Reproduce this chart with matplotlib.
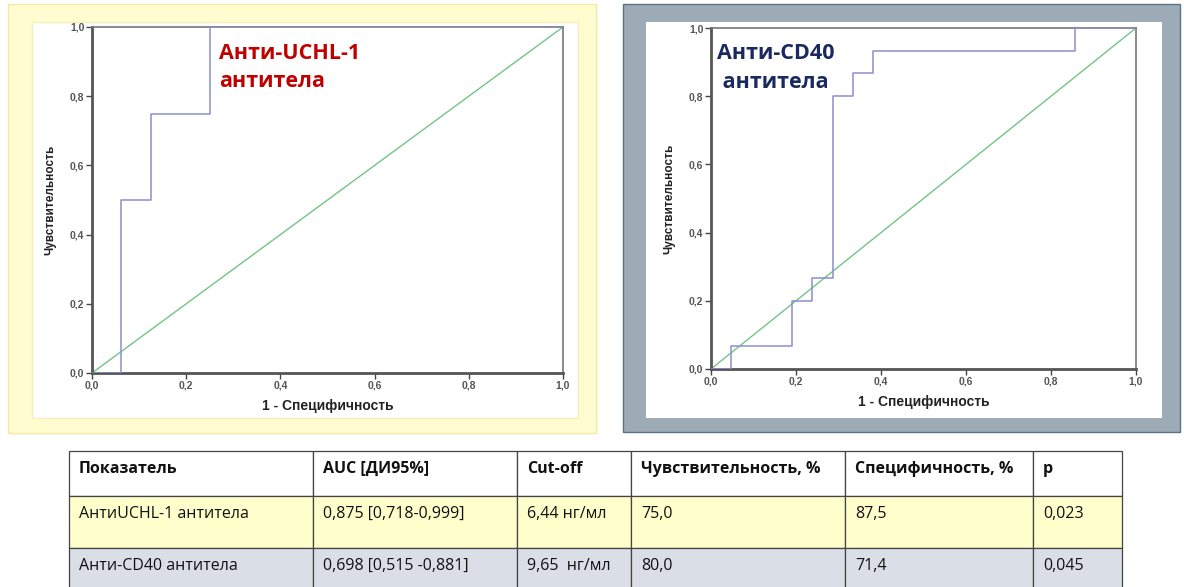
import matplotlib
matplotlib.use("Agg")
from matplotlib import pyplot as plt
from matplotlib.patches import Rectangle

# ROC data (1 - specificity, sensitivity)
uchl_fpr = [0.0, 0.0625, 0.0625, 0.125, 0.125, 0.25, 0.25, 1.0]
uchl_tpr = [0.0, 0.0, 0.5, 0.5, 0.75, 0.75, 1.0, 1.0]

cd40_fpr = [0.0, 0.048, 0.048, 0.190, 0.190, 0.238, 0.238, 0.286, 0.286,
            0.333, 0.333, 0.381, 0.381, 0.857, 0.857, 1.0]
cd40_tpr = [0.0, 0.0, 0.067, 0.067, 0.2, 0.2, 0.267, 0.267, 0.8,
            0.8, 0.867, 0.867, 0.933, 0.933, 1.0, 1.0]

ticks = [0.0, 0.2, 0.4, 0.6, 0.8, 1.0]
tick_labels = ['0,0', '0,2', '0,4', '0,6', '0,8', '1,0']

# table
headers = ['Показатель', 'AUC [ДИ95%]', 'Cut-off', 'Чувствительность, %', 'Специфичность, %', 'p']
row_uchl = ['АнтиUCHL-1 антитела', '0,875 [0,718-0,999]', '6,44 нг/мл', '75,0', '87,5', '0,023']
row_cd40 = ['Анти-CD40 антитела', '0,698 [0,515 -0,881]', '9,65  нг/мл', '80,0', '71,4', '0,045']

W, H = 1184, 587
fig = plt.figure(figsize=(W / 100, H / 100), dpi=100)
fig.patch.set_facecolor('white')

# background axes in pixel coords for frames and table
bg = fig.add_axes([0, 0, 1, 1])
bg.set_xlim(0, W)
bg.set_ylim(H, 0)
bg.axis('off')

# frames
bg.add_patch(Rectangle((8, 4), 588, 429, facecolor='#fffcd0', edgecolor='#f1e9a6', lw=1))
bg.add_patch(Rectangle((32, 22), 546, 396, facecolor='white', edgecolor='#f5efb8', lw=1))
bg.add_patch(Rectangle((623, 4), 557, 428, facecolor='#9cabb5', edgecolor='#5f7282', lw=1))
bg.add_patch(Rectangle((646, 22), 516, 396, facecolor='white', edgecolor='none'))

# table
col_edges = [69, 313, 517, 631, 845, 1033, 1122]
row_edges = [451, 496, 548, 600]
row_colors = ['white', '#ffffcc', '#d9dee7']
rows = [headers, row_uchl, row_cd40]
for r, (cells, color) in enumerate(zip(rows, row_colors)):
    y0, y1 = row_edges[r], row_edges[r + 1]
    for c, txt in enumerate(cells):
        x0, x1 = col_edges[c], col_edges[c + 1]
        bg.add_patch(Rectangle((x0, y0), x1 - x0, y1 - y0, facecolor=color,
                               edgecolor='#444444', lw=0.9))
        bg.text(x0 + 10, y0 + 18, txt, fontsize=11.5, family='Open Sans',
                fontweight='bold' if r == 0 else 'normal', color='#111111',
                ha='left', va='center')


def roc_axes(rect, fpr, tpr, title, title_color, title_xy, ylabel_x, xlabel_y):
    ax = fig.add_axes(rect)
    ax.plot(fpr, tpr, color='#8a8fd0', lw=1.1, zorder=3)
    ax.plot([0, 1], [0, 1], color='#74c486', lw=1.0, zorder=2)
    ax.set_xlim(0, 1)
    ax.set_ylim(0, 1)
    ax.set_xticks(ticks)
    ax.set_yticks(ticks)
    ax.set_xticklabels(tick_labels)
    ax.set_yticklabels(tick_labels)
    ax.tick_params(length=4, width=1, color='#444444', labelsize=7.5,
                   labelcolor='#555555', pad=1.5)
    for lab in ax.get_xticklabels() + ax.get_yticklabels():
        lab.set_fontweight('bold')
        lab.set_family('Liberation Sans')
    for side in ['left', 'bottom']:
        ax.spines[side].set_color('#555555')
        ax.spines[side].set_linewidth(2)
    for side in ['top', 'right']:
        ax.spines[side].set_color('#777777')
        ax.spines[side].set_linewidth(1.2)
    ax.set_xlabel('1 - Специфичность', fontsize=10, fontweight='bold',
                  family='Liberation Sans', color='#222222')
    ax.set_ylabel('Чувствительность', fontsize=8.5, fontweight='bold',
                  family='Liberation Sans', color='#222222')
    ax.xaxis.set_label_coords(0.5, xlabel_y)
    ax.yaxis.set_label_coords(ylabel_x, 0.5)
    ax.text(title_xy[0], title_xy[1], title, transform=ax.transAxes,
            fontsize=15.5, fontweight='bold', family='Open Sans', color=title_color,
            ha='left', va='top', linespacing=1.45)
    return ax


roc_axes([92 / W, 1 - 373 / H, (563 - 92) / W, (373 - 27) / H],
         uchl_fpr, uchl_tpr, 'Анти-UCHL-1\nантитела', '#c00000',
         (0.27, 0.955), -0.075, -0.075)
roc_axes([711 / W, 1 - 369 / H, (1136 - 711) / W, (369 - 28) / H],
         cd40_fpr, cd40_tpr, 'Анти-CD40\n антитела', '#1a2a5e',
         (0.015, 0.955), -0.085, -0.075)

plt.savefig('out.png', dpi=100)
